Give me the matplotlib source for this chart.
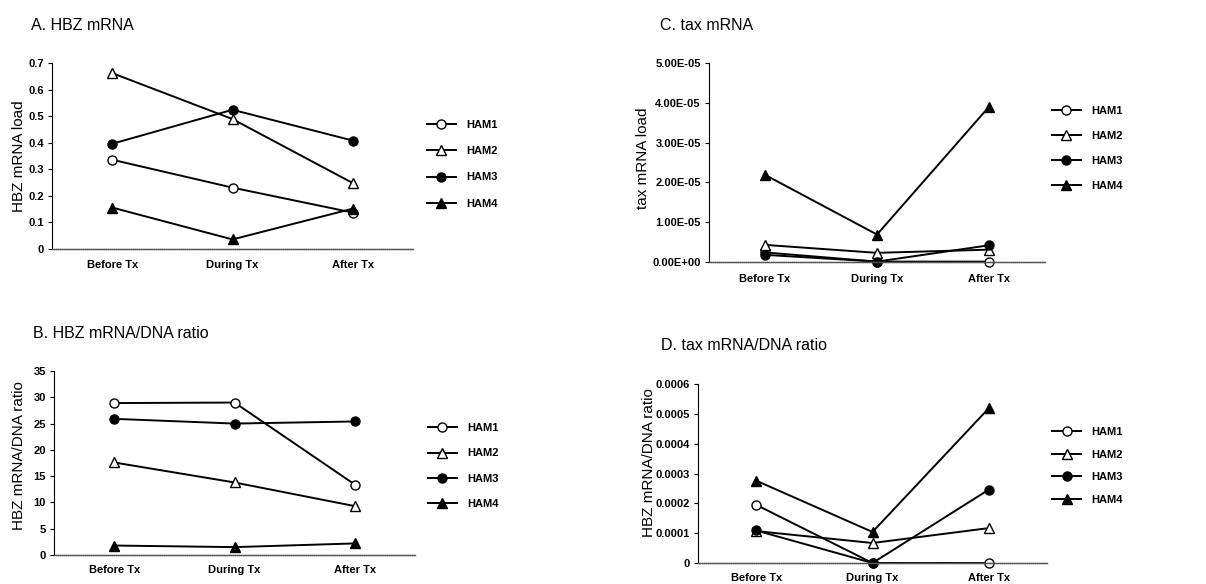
import matplotlib
matplotlib.use('Agg')
import matplotlib.pyplot as plt
from matplotlib.lines import Line2D

phases = ['Before Tx', 'During Tx', 'After Tx']
patients = ['HAM1', 'HAM2', 'HAM3', 'HAM4']

# A. HBZ mRNA load
hbz_load = {
    'HAM1': [0.336, 0.231, 0.137],
    'HAM2': [0.662, 0.489, 0.248],
    'HAM3': [0.396, 0.524, 0.408],
    'HAM4': [0.156, 0.036, 0.152],
}
# B. HBZ mRNA/DNA ratio
hbz_ratio = {
    'HAM1': [28.9, 29.0, 13.4],
    'HAM2': [17.6, 13.8, 9.3],
    'HAM3': [25.9, 25.0, 25.4],
    'HAM4': [1.8, 1.5, 2.2],
}
# C. tax mRNA load
tax_load = {
    'HAM1': [2.4e-6, 0.1e-6, 0.1e-6],
    'HAM2': [4.3e-6, 2.3e-6, 3.1e-6],
    'HAM3': [1.8e-6, 0.1e-6, 4.2e-6],
    'HAM4': [2.19e-5, 0.69e-5, 3.9e-5],
}
# D. tax mRNA/DNA ratio
tax_ratio = {
    'HAM1': [0.000195, 0.0, 0.0],
    'HAM2': [0.000107, 0.000067, 0.000117],
    'HAM3': [0.000109, 0.0, 0.000246],
    'HAM4': [0.000276, 0.000104, 0.000519],
}

ticks_A = [0, 0.1, 0.2, 0.3, 0.4, 0.5, 0.6, 0.7]
ticks_B = [0, 5, 10, 15, 20, 25, 30, 35]
ticks_C = [0, 1e-5, 2e-5, 3e-5, 4e-5, 5e-5]
labels_C = ['0.00E+00', '1.00E-05', '2.00E-05', '3.00E-05', '4.00E-05', '5.00E-05']
ticks_D = [0, 0.0001, 0.0002, 0.0003, 0.0004, 0.0005, 0.0006]
labels_D = ['0', '0.0001', '0.0002', '0.0003', '0.0004', '0.0005', '0.0006']

styles = {
    'HAM1': dict(marker='o', markerfacecolor='white'),
    'HAM2': dict(marker='^', markerfacecolor='white'),
    'HAM3': dict(marker='o', markerfacecolor='black'),
    'HAM4': dict(marker='^', markerfacecolor='black'),
}

plt.rcParams['font.family'] = ['Liberation Sans', 'DejaVu Sans']
small = dict(family=['Liberation Sans', 'DejaVu Sans'], weight='bold', size=8)

W, H = 1206.0, 584.0
fig = plt.figure(figsize=(W / 100, H / 100), dpi=100)


def box(l, r, t, b):
    return [l / W, 1 - b / H, (r - l) / W, (b - t) / H]


def panel(rect, data, ticks, labels, ylab, labx, laby, leg_x, leg_y, leg_space, xpad):
    ax = fig.add_axes(rect)
    x = range(len(phases))
    for p in patients:
        ax.plot(x, data[p], color='black', lw=1.4, ms=6.5, mew=1.0,
                markeredgecolor='black', clip_on=False, **styles[p])
    ax.set_xlim(-0.5, 2.5)
    ax.set_ylim(ticks[0], ticks[-1])
    ax.set_yticks(ticks)
    ax.set_yticklabels(labels if labels else [('%g' % t) for t in ticks], fontdict=small)
    ax.set_xticks(list(x))
    ax.set_xticklabels(phases, fontdict=small)
    for lbl in ax.get_xticklabels():
        lbl.set_va('baseline')
    ax.tick_params(axis='x', length=0, pad=xpad)
    ax.tick_params(axis='y', length=3, width=0.8, pad=3)
    for s in ['top', 'right']:
        ax.spines[s].set_visible(False)
    ax.spines['left'].set_linewidth(0.8)
    ax.spines['bottom'].set_linewidth(1.0)
    ax.spines['bottom'].set_color('#555555')
    ax.spines['bottom'].set_linestyle((0, (1, 0.5)))
    ax.set_ylabel(ylab, fontsize=11)
    ax.yaxis.set_label_coords(labx, laby)
    handles = [Line2D([], [], color='black', lw=1.4, ms=6.5, mew=1.0,
                      markeredgecolor='black', **styles[p]) for p in patients]
    ax.legend(handles, patients, loc='center left', bbox_to_anchor=(leg_x, leg_y),
              frameon=False, handlelength=2.6, handletextpad=0.9,
              labelspacing=leg_space, prop=dict(small))
    return ax


panel(box(52, 413, 63, 249), hbz_load, ticks_A, None, 'HBZ mRNA load',
      -0.072, 0.5, 1.011, 0.455, 1.45, 14)
panel(box(54, 415, 371, 555), hbz_ratio, ticks_B, None, 'HBZ mRNA/DNA ratio',
      -0.078, 0.543, 1.008, 0.483, 1.38, 13)
panel(box(709, 1045, 63, 262), tax_load, ticks_C, labels_C, 'tax mRNA load',
      -0.177, 0.52, 0.991, 0.57, 1.35, 14.5)
panel(box(698, 1047, 384, 563), tax_ratio, ticks_D, labels_D, 'HBZ mRNA/DNA ratio',
      -0.12, 0.56, 0.986, 0.542, 1.15, 13)

fig.text(31 / W, 1 - 25 / H, 'A. HBZ mRNA', fontsize=11.5, va='center', ha='left')
fig.text(33 / W, 1 - 333 / H, 'B. HBZ mRNA/DNA ratio', fontsize=11.5, va='center', ha='left')
fig.text(660 / W, 1 - 25 / H, 'C. tax mRNA', fontsize=11.5, va='center', ha='left')
fig.text(661 / W, 1 - 345 / H, 'D. tax mRNA/DNA ratio', fontsize=11.5, va='center', ha='left')

fig.savefig('out.png', dpi=100)
